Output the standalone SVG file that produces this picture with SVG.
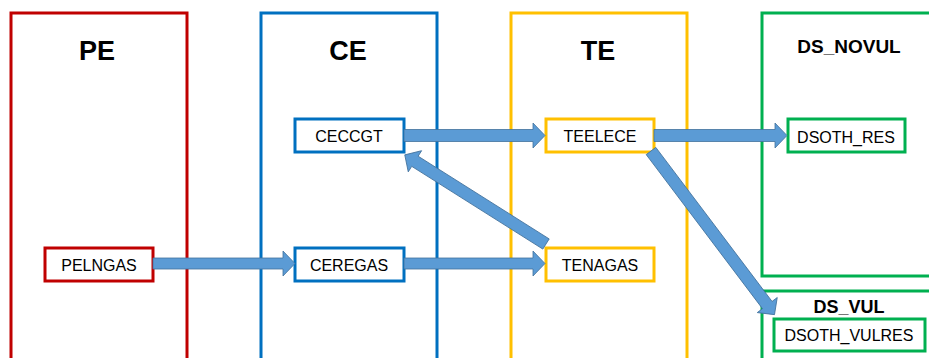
<svg xmlns="http://www.w3.org/2000/svg" width="929" height="358" viewBox="0 0 929 358">
<style>
.grp{fill:none;stroke-width:3}
.node{fill:#fff;stroke-width:3}
.red{stroke:#C00000}.blue{stroke:#0070C0}.yel{stroke:#FFC000}.grn{stroke:#00B050}
.title{font-family:"Liberation Sans",Arial,sans-serif;font-weight:bold;fill:#000;text-anchor:middle}
.lbl{font-family:"Liberation Sans",Arial,sans-serif;font-size:16px;fill:#000;text-anchor:middle}
.arr{fill:#5B9BD5;stroke:#41719C;stroke-width:0.8}
</style>
<rect width="929" height="358" fill="#fff"/>
<g id="PE">
<rect class="grp red" x="11" y="13" width="176" height="350"/>
<text class="title" x="97" y="60" font-size="27">PE</text>
</g>
<g id="CE">
<rect class="grp blue" x="261" y="13" width="176" height="350"/>
<text class="title" x="348" y="60" font-size="27">CE</text>
</g>
<g id="TE">
<rect class="grp yel" x="511" y="13" width="176" height="350"/>
<text class="title" x="598" y="60" font-size="27">TE</text>
</g>
<g id="DS_NOVUL">
<rect class="grp grn" x="762" y="13" width="180" height="263"/>
<text class="title" x="849" y="53" font-size="19">DS_NOVUL</text>
</g>
<g id="DS_VUL">
<rect class="grp grn" x="762" y="291" width="180" height="80"/>
<text class="title" x="849" y="313" font-size="18">DS_VUL</text>
</g>
<g id="PELNGAS">
<rect class="node red" x="45" y="248" width="108" height="33"/>
<text class="lbl" x="99" y="271">PELNGAS</text>
</g>
<g id="CECCGT">
<rect class="node blue" x="295" y="119" width="109" height="33"/>
<text class="lbl" x="349" y="142">CECCGT</text>
</g>
<g id="CEREGAS">
<rect class="node blue" x="295" y="248" width="109" height="33"/>
<text class="lbl" x="349" y="271">CEREGAS</text>
</g>
<g id="TEELECE">
<rect class="node yel" x="546" y="119" width="108" height="33"/>
<text class="lbl" x="600" y="142">TEELECE</text>
</g>
<g id="TENAGAS">
<rect class="node yel" x="546" y="248" width="108" height="33"/>
<text class="lbl" x="600" y="271">TENAGAS</text>
</g>
<g id="DSOTH_RES">
<rect class="node grn" x="788" y="119" width="117" height="33"/>
<text class="lbl" x="846" y="143">DSOTH_RES</text>
</g>
<g id="DSOTH_VULRES">
<rect class="node grn" x="774" y="319" width="151" height="32"/>
<text class="lbl" x="849" y="341" font-size="15">DSOTH_VULRES</text>
</g>
<g id="connectors">
<polygon class="arr" points="153,258 283,258 283,251 295,263.5 283,276 283,269 153,269"/>
<polygon class="arr" points="404,258 533,258 533,251 545,263.5 533,276 533,269 404,269"/>
<polygon class="arr" points="404,129.5 533,129.5 533,123 545,135.5 533,148 533,141.5 404,141.5"/>
<polygon class="arr" points="654,129.5 775,129.5 775,123 787,135.5 775,148 775,141.5 654,141.5"/>
<polygon class="arr" transform="translate(546,244) rotate(212.26)" points="0,-6 155,-6 155,-12.5 167,0 155,12.5 155,6 0,6"/>
<polygon class="arr" transform="translate(651,151) rotate(52.96)" points="0,-6 193,-6 193,-12.5 205,0 193,12.5 193,6 0,6"/>
</g>
</svg>
